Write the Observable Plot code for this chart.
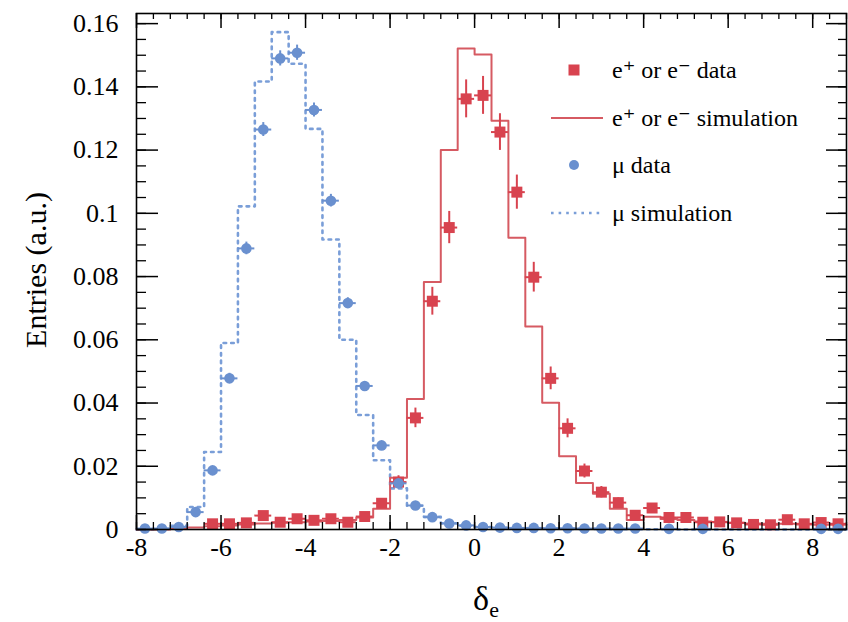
<!DOCTYPE html>
<html><head><meta charset="utf-8">
<script src="https://cdn.jsdelivr.net/npm/d3@7"></script>
<script src="https://cdn.jsdelivr.net/npm/@observablehq/plot@0.6"></script>
<style>
body{margin:0;background:#fff} svg{display:block}
svg text, svg { font-family: "Liberation Serif", "Times New Roman", Times, "Tinos", "DejaVu Serif", "Noto Serif", serif !important; }
</style>
</head><body><div id="chart"></div>
<script>
const binEdges = [-8.0,-7.6,-7.2,-6.8,-6.4,-6.0,-5.6,-5.2,-4.8,-4.4,-4.0,-3.6,-3.2,-2.8,-2.4,-2.0,-1.6,-1.2,-0.8,-0.4,0.0,0.4,0.8,1.2,1.6,2.0,2.4,2.8,3.2,3.6,4.0,4.4,4.8,5.2,5.6,6.0,6.4,6.8,7.2,7.6,8.0,8.4,8.8];
const binCenters = [-7.8,-7.4,-7.0,-6.6,-6.2,-5.8,-5.4,-5.0,-4.6,-4.2,-3.8,-3.4,-3.0,-2.6,-2.2,-1.8,-1.4,-1.0,-0.6,-0.2,0.2,0.6,1.0,1.4,1.8,2.2,2.6,3.0,3.4,3.8,4.2,4.6,5.0,5.4,5.8,6.2,6.6,7.0,7.4,7.8,8.2,8.6];

// mu data (null = empty bin, not drawn)
const muData = [0.0003,0.0003,0.0008,0.0055,0.0187,0.0478,0.0889,0.1265,0.1490,0.1508,0.1327,0.1040,0.0716,0.0454,0.0266,0.0146,0.0076,0.0039,0.0019,0.0013,0.0008,0.0006,0.0005,0.0005,0.0004,0.0004,0.0003,0.0003,0.0003,0.0003,null,0.0002,null,0.0002,null,null,null,null,null,null,0.0002,0.0002];
const muErr  = [0.0002,0.0002,0.0003,0.0008,0.0012,0.0016,0.0020,0.0022,0.0024,0.0024,0.0022,0.0020,0.0017,0.0013,0.0011,0.0008,0.0006,0.0004,0.0003,0.0003,0.0002,0.0002,0.0002,0.0002,0.0002,0.0002,0.0002,0.0002,0.0002,0.0002,null,0.0001,null,0.0001,null,null,null,null,null,null,0.0001,0.0001];
const muSim  = [0,0.0002,0.0012,0.0071,0.0245,0.0590,0.1022,0.1417,0.1573,0.1473,0.1267,0.0917,0.0600,0.0362,0.0219,0.0130,0.0075,0.0040,0.0020,0.0012,0.0008,0.0005,0.0004,0.0003,0.0003,0.0002,0.0002,0.0002,0.0001,0.0001,0.0001,0.0001,0,0,0,0,0,0,0,0,0,0];

// e+ or e- data
const eData = [null,null,null,null,0.0018,0.0018,0.0021,0.0044,0.0023,0.0034,0.0029,0.0034,0.0023,0.0041,0.0083,0.0150,0.0353,0.0722,0.0955,0.1362,0.1373,0.1257,0.1067,0.0798,0.0478,0.0320,0.0185,0.0118,0.0085,0.0045,0.0068,0.0038,0.0038,0.0023,0.0024,0.0021,0.0016,0.0015,0.0031,0.0018,0.0022,0.0018];
const eErr  = [null,null,null,null,0.0007,0.0007,0.0008,0.0011,0.0008,0.0010,0.0009,0.0010,0.0008,0.0011,0.0015,0.0020,0.0031,0.0044,0.0051,0.0060,0.0060,0.0058,0.0054,0.0047,0.0036,0.0030,0.0022,0.0018,0.0015,0.0011,0.0014,0.0010,0.0010,0.0008,0.0008,0.0008,0.0007,0.0006,0.0009,0.0007,0.0008,0.0007];
const eSim  = [0,0,0.0002,0.0006,0.0010,0.0013,0.0016,0.0019,0.0021,0.0023,0.0025,0.0027,0.0030,0.0038,0.0066,0.0164,0.0413,0.0783,0.1200,0.1521,0.1502,0.1293,0.0923,0.0642,0.0401,0.0232,0.0147,0.0113,0.0066,0.0030,0.0040,0.0033,0.0030,0.0025,0.0023,0.0021,0.0019,0.0018,0.0018,0.0016,0.0015,0.0015];

const xTicks = [-8,-6,-4,-2,0,2,4,6,8];
const yTicks = [0,0.02,0.04,0.06,0.08,0.1,0.12,0.14,0.16];
const yTickLabels = ["0","0.02","0.04","0.06","0.08","0.1","0.12","0.14","0.16"];
const xMinor = binEdges;
const yMinor = d3.range(0, 0.1631, 0.005);

const legendLabels = ["e\u207A or e\u207B data","e\u207A or e\u207B simulation","\u03BC data","\u03BC simulation"];

const RED = "#d8434f", REDLINE = "#d65a62", BLUE = "#6a90cf", BLUELINE = "#7a9ed8";

const muPts = binCenters.map((x,i)=>({x, y: muData[i], e: muErr[i]})).filter(d=>d.y!=null);
const ePts  = binCenters.map((x,i)=>({x, y: eData[i], e: eErr[i]})).filter(d=>d.y!=null);
const stepOf = arr => binEdges.map((x,i)=>({x, y: arr[Math.min(i, arr.length-1)]}));

const W = 848, H = 622, ML = 136, MR = 2, MT = 13, MB = 93;
const IW = W-ML-MR, IH = H-MT-MB;
const FONT = "'Liberation Serif', 'Times New Roman', Times, Tinos, 'DejaVu Serif', 'Noto Serif', serif";

const plot = Plot.plot({
  width: W, height: H,
  marginLeft: ML, marginRight: MR, marginTop: MT, marginBottom: MB,
  x: {domain: [-8, 8.8]},
  y: {domain: [0, 0.1632]},
  style: {fontFamily: FONT, background: "white", color: "black"},
  marks: [
    Plot.line(stepOf(muSim), {x: "x", y: "y", curve: "step-after", stroke: BLUELINE, strokeWidth: 2.6, strokeDasharray: "2.6,5"}),
    Plot.line(stepOf(eSim), {x: "x", y: "y", curve: "step-after", stroke: REDLINE, strokeWidth: 2}),
    Plot.ruleX(ePts, {x: "x", y1: d=>d.y-d.e, y2: d=>d.y+d.e, stroke: RED, strokeWidth: 2}),
    Plot.ruleY(ePts, {y: "y", x1: d=>d.x-0.2, x2: d=>d.x+0.2, stroke: RED, strokeWidth: 2}),
    Plot.dot(ePts, {x: "x", y: "y", r: 6.2, symbol: "square", fill: RED}),
    Plot.ruleX(muPts, {x: "x", y1: d=>d.y-d.e, y2: d=>d.y+d.e, stroke: BLUE, strokeWidth: 2}),
    Plot.ruleY(muPts, {y: "y", x1: d=>d.x-0.2, x2: d=>d.x+0.2, stroke: BLUE, strokeWidth: 2}),
    Plot.dot(muPts, {x: "x", y: "y", r: 5.3, fill: BLUE}),
    // ticks (inward)
    Plot.ruleY(yTicks, {y: d=>d, insetRight: IW-22, stroke: "black", strokeWidth: 1.5}),
    Plot.ruleY(yTicks, {y: d=>d, insetLeft: IW-20, stroke: "black", strokeWidth: 1.5}),
    Plot.ruleY(yMinor, {y: d=>d, insetRight: IW-10, stroke: "black", strokeWidth: 1.3}),
    Plot.ruleY(yMinor, {y: d=>d, insetLeft: IW-8, stroke: "black", strokeWidth: 1.3}),
    Plot.ruleX(xTicks, {x: d=>d, insetTop: IH-14, stroke: "black", strokeWidth: 1.5}),
    Plot.ruleX(xTicks, {x: d=>d, insetBottom: IH-15, stroke: "black", strokeWidth: 1.5}),
    Plot.ruleX(xMinor, {x: d=>d, insetTop: IH-7, stroke: "black", strokeWidth: 1.3}),
    Plot.ruleX(xMinor, {x: d=>d, insetBottom: IH-6, stroke: "black", strokeWidth: 1.3}),
    Plot.frame({stroke: "black", strokeWidth: 1.6}),
    Plot.axisX(xTicks, {tickSize: 0, tickPadding: 8, fontSize: 26, tickFormat: d=>String(d), label: null}),
    Plot.axisY(yTicks, {tickSize: 0, tickPadding: 18, fontSize: 26, tickFormat: (d,i)=>yTickLabels[i], label: null})
  ]
});
document.getElementById("chart").appendChild(plot);

// axis titles and legend
const svg = d3.select(plot);
svg.append("text").attr("transform", "translate(46,270) rotate(-90)").attr("text-anchor","middle")
  .attr("font-family", FONT).attr("font-size", 30).attr("fill","black").text("Entries (a.u.)");
const xl = svg.append("text").attr("x", 486).attr("y", 610).attr("text-anchor","middle")
  .attr("font-family", FONT).attr("font-size", 34).attr("fill","black");
xl.append("tspan").text("\u03B4");
xl.append("tspan").attr("font-size", 22).attr("dy", 7).text("e");

const lg = svg.append("g").attr("font-family", FONT).attr("font-size", 24).attr("fill", "black").attr("text-anchor", "start");
const rowsY = [70,118,165,213];
lg.append("rect").attr("x", 568.5).attr("y", rowsY[0]-5.5).attr("width", 11).attr("height", 11).attr("fill", RED);
lg.append("line").attr("x1", 551).attr("x2", 603).attr("y1", rowsY[1]).attr("y2", rowsY[1]).attr("stroke", REDLINE).attr("stroke-width", 2);
lg.append("circle").attr("cx", 574).attr("cy", rowsY[2]).attr("r", 5).attr("fill", BLUE);
lg.append("line").attr("x1", 551).attr("x2", 603).attr("y1", rowsY[3]).attr("y2", rowsY[3]).attr("stroke", BLUELINE).attr("stroke-width", 2.6).attr("stroke-dasharray", "2.6,5");
legendLabels.forEach((t,i)=>{
  lg.append("text").attr("x", 612).attr("y", rowsY[i]).attr("dy", "0.32em").attr("text-anchor", "start").text(t);
});
</script></body></html>
